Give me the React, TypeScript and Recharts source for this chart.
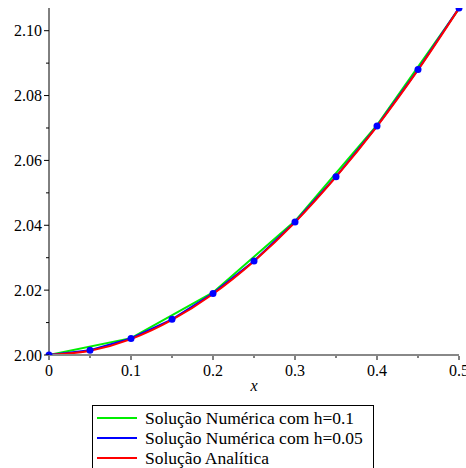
import React from "react";
import { LineChart, Line, XAxis, YAxis, Legend } from "recharts";

const SERIF = "'Liberation Serif', 'Times New Roman', Times, serif";

// h = 0.1 steps
const xCoarse = [0, 0.1, 0.2, 0.3, 0.4, 0.5];
const yCoarse = [2.0, 2.0052, 2.0193, 2.0413, 2.0709, 2.1068];

// h = 0.05 steps
const xFine = [0, 0.05, 0.1, 0.15, 0.2, 0.25, 0.3, 0.35, 0.4, 0.45, 0.5];
const yFine = [2.0, 2.0015, 2.0051, 2.011, 2.019, 2.029, 2.041, 2.055, 2.0706, 2.088, 2.107];
const yExact = [2.0, 2.0013, 2.0049, 2.0108, 2.0188, 2.0289, 2.0409, 2.0549, 2.0705, 2.0879, 2.1069];

const xTicks = [0, 0.05, 0.1, 0.15, 0.2, 0.25, 0.3, 0.35, 0.4, 0.45, 0.5];
const xMajor = [0, 0.1, 0.2, 0.3, 0.4, 0.5];
const yTicks = [2.0, 2.01, 2.02, 2.03, 2.04, 2.05, 2.06, 2.07, 2.08, 2.09, 2.1];
const yMajor = [2.0, 2.02, 2.04, 2.06, 2.08, 2.1];

const legendItems = [
  { label: "Solução Numérica com h=0.1", color: "#00ee00" },
  { label: "Solução Numérica com h=0.05", color: "#0000ff" },
  { label: "Solução Analítica", color: "#ff0000" },
];

const coarse = xCoarse.map((x, i) => ({ x, y: yCoarse[i] }));
const fine = xFine.map((x, i) => ({ x, y: yFine[i] }));
const exact = xFine.map((x, i) => ({ x, y: yExact[i] }));

const isMajor = (list: number[], v: number) => list.some((m) => Math.abs(m - v) < 1e-9);

const XTick = (props: any) => {
  const { x, y, payload } = props;
  const major = isMajor(xMajor, payload.value);
  return (
    <g>
      <line x1={x} x2={x} y1={y + 1} y2={y + (major ? 5 : 3)} stroke="#000" />
      {major && (
        <text x={x} y={y} dy={21} textAnchor="middle" fontSize={16} fill="#000" fontFamily={SERIF}>
          {payload.value === 0 ? "0" : String(payload.value)}
        </text>
      )}
    </g>
  );
};

const YTick = (props: any) => {
  const { x, y, payload } = props;
  const major = isMajor(yMajor, payload.value);
  return (
    <g>
      <line x1={x - (major ? 5 : 3)} x2={x} y1={y} y2={y} stroke="#000" />
      {major && (
        <text x={x - 7} y={y} dy="0.35em" textAnchor="end" fontSize={16} fill="#000" fontFamily={SERIF}>
          {payload.value.toFixed(2)}
        </text>
      )}
    </g>
  );
};

const LegendBox = () => (
  <div
    style={{
      width: 282,
      height: 70,
      border: "1px solid #000",
      boxSizing: "border-box",
      background: "#fff",
      paddingTop: 2,
      overflow: "visible",
    }}
  >
    {legendItems.map((it) => (
      <div key={it.label} style={{ display: "flex", alignItems: "center", height: 20 }}>
        <div
          style={{ width: 40, height: 2, flexShrink: 0, background: it.color, marginLeft: 4, marginRight: 8 }}
        />
        <span
          style={{
            fontSize: 17.5,
            fontFamily: SERIF,
            color: "#000",
            whiteSpace: "nowrap",
            flexShrink: 0,
          }}
        >
          {it.label}
        </span>
      </div>
    ))}
  </div>
);

export default function App() {
  return (
    <div style={{ position: "absolute", left: 0, top: 0, background: "#fff", fontFamily: SERIF }}>
      <LineChart width={466} height={468} margin={{ top: 8, right: 7, left: 0, bottom: 73 }}>
        <XAxis
          type="number"
          dataKey="x"
          domain={[0, 0.5]}
          ticks={xTicks}
          interval={0}
          height={40}
          tickSize={0}
          tickMargin={0}
          tickLine={false}
          tick={<XTick />}
          axisLine={{ stroke: "#888", strokeWidth: 2 }}
          label={{ value: "x", position: "insideTop", offset: 25, fontStyle: "italic", fontSize: 16, fill: "#000", fontFamily: SERIF }}
        />
        <YAxis
          type="number"
          domain={[2.0, 2.107]}
          ticks={yTicks}
          interval={0}
          width={49}
          tickSize={0}
          tickMargin={0}
          tickLine={false}
          tick={<YTick />}
          axisLine={{ stroke: "#000", strokeWidth: 1 }}
          allowDataOverflow
        />
        <Legend
          layout="vertical"
          align="center"
          verticalAlign="middle"
          wrapperStyle={{ left: 92, top: 405, width: 282 }}
          content={<LegendBox />}
        />
        <Line data={coarse} dataKey="y" type="linear" stroke="#00ee00" strokeWidth={2} dot={false} isAnimationActive={false} />
        <Line data={fine} dataKey="y" type="linear" stroke="#0000ff" strokeWidth={2} dot={false} isAnimationActive={false} />
        <Line data={exact} dataKey="y" type="monotone" stroke="#ff0000" strokeWidth={2} dot={false} isAnimationActive={false} />
        <Line
          data={fine}
          dataKey="y"
          stroke="none"
          legendType="none"
          dot={{ r: 3.5, fill: "#0000ff", stroke: "none" }}
          isAnimationActive={false}
        />
      </LineChart>
    </div>
  );
}
